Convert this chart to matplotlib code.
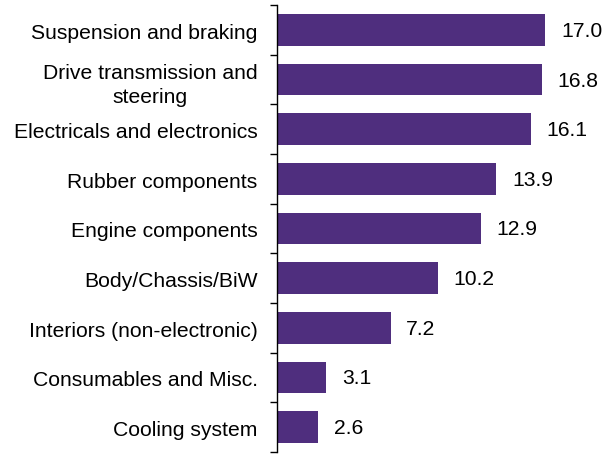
import matplotlib
matplotlib.use('Agg')
import matplotlib.pyplot as plt
from matplotlib.ticker import FixedLocator

categories = ['Suspension and braking', 'Drive transmission and\nsteering',
              'Electricals and electronics', 'Rubber components',
              'Engine components', 'Body/Chassis/BiW',
              'Interiors (non-electronic)', 'Consumables and Misc.',
              'Cooling system']
values = [17.0, 16.8, 16.1, 13.9, 12.9, 10.2, 7.2, 3.1, 2.6]

plt.rcParams['font.family'] = ['Liberation Sans', 'DejaVu Sans']

fig = plt.figure(figsize=(6.04, 4.57), dpi=100)
ax = fig.add_axes([0.4586, 0.011, 0.525, 0.978])

n = len(categories)
pos = list(range(n))
ax.barh(pos, values, height=0.64, color='#4F2E7E')
ax.set_ylim(n - 0.5, -0.5)
ax.set_xlim(0, 20.1)

for p, v in zip(pos, values):
    ax.text(v + 1.0, p + 0.03, f'{v:.1f}', va='center', ha='left', fontsize=15.2)

ax.set_yticks([p + 0.03 for p in pos])
ax.set_yticklabels(categories, fontsize=15.2, multialignment='center',
                   linespacing=1.3)
ax.tick_params(axis='y', which='major', length=0, pad=14)
ax.yaxis.set_minor_locator(FixedLocator([i - 0.5 for i in range(n + 1)]))
ax.tick_params(axis='y', which='minor', length=5, width=1, direction='out')

ax.set_xticks([])
for s in ['top', 'right', 'bottom']:
    ax.spines[s].set_visible(False)
ax.spines['left'].set_linewidth(1)

fig.savefig('out.png', dpi=100)
